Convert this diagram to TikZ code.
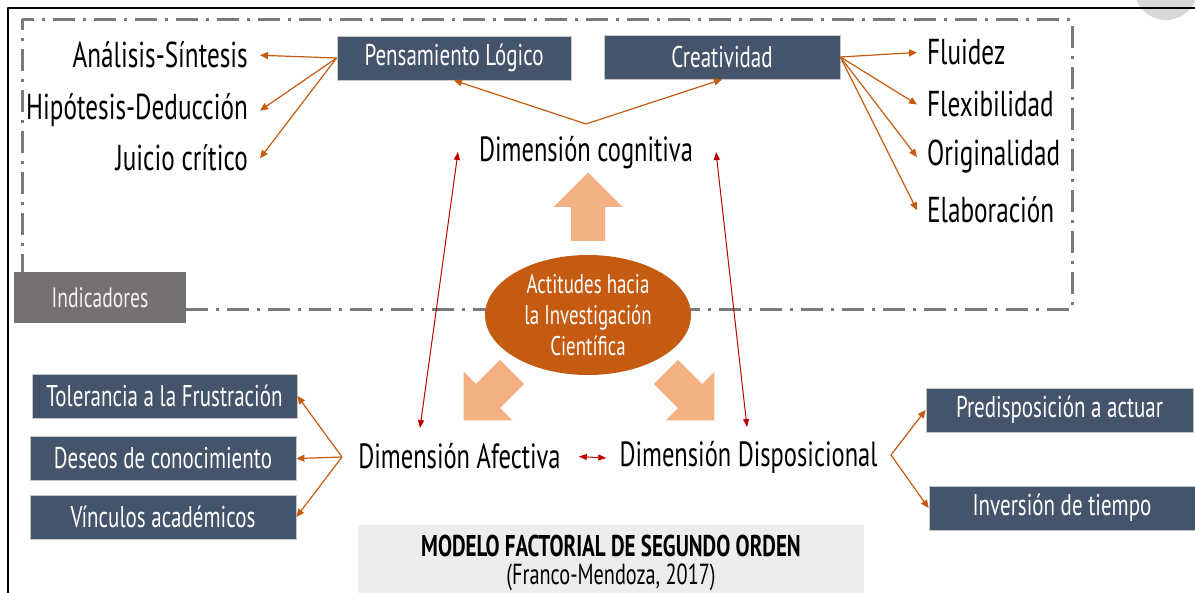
\documentclass[tikz,border=0pt]{standalone}
\usepackage{fontspec}
\setmainfont{PT Sans}[FakeStretch=0.7]
\usetikzlibrary{arrows.meta,shapes.geometric}
\definecolor{slate}{HTML}{44546A}
\definecolor{rust}{HTML}{C55A11}
\definecolor{peach}{HTML}{F4B183}
\definecolor{dimred}{HTML}{C00000}
\definecolor{indgray}{HTML}{767171}
\definecolor{dashgray}{HTML}{7A7A7A}
\definecolor{notegray}{HTML}{EDEDED}
\begin{document}
\begin{tikzpicture}[x=1pt,y=-1pt,line join=round,
    ind/.style={font=\fontsize{36}{40}\selectfont,inner sep=0pt},
    dim/.style={font=\fontsize{35}{39}\selectfont,inner sep=0pt},
    slatebox/.style={fill=slate,draw=gray!45,line width=0.8pt,text=white,
      font=\fontsize{30}{33}\selectfont,minimum height=44pt,inner sep=0pt},
    link/.style={draw=rust,line width=1.2pt,-{Triangle[length=8pt,width=7pt]}},
    both/.style={draw=dimred,line width=1pt,
      {Triangle[length=8pt,width=6pt]}-{Triangle[length=8pt,width=6pt]}}]
  \useasboundingbox (0,0) rectangle (1195,593);
  \fill[gray!30] (1166,-12) circle (32);
  \draw[line width=1.5pt] (8,593) -- (8,8) -- (1195,8);

  % indicadores frame
  \draw[dashgray,line width=3pt,dash pattern=on 22pt off 8pt on 3pt off 8pt]
    (186,310) -- (1072,310) -- (1072,20) -- (22,20) -- (22,272);
  \node[fill=indgray,minimum width=172pt,minimum height=51pt,inner sep=0pt,
    text=white!95!black,font=\fontsize{28}{31}\selectfont] (indic) at (100,297.5) {Indicadores};

  % block arrows
  \foreach \x/\y/\a in {588/207/90,488/396/225,690/396/315}
    \fill[peach,shift={(\x,\y)},rotate=\a] (-34,-17) -- (0,-17) -- (0,-34.5)
      -- (34.5,0) -- (0,34.5) -- (0,17) -- (-34,17) -- cycle;

  \node[ellipse,fill=rust,minimum width=206pt,minimum height=120pt,inner sep=0pt,
    text=white,align=center,font=\fontsize{27}{31}\selectfont] (actitud) at (588,315)
    {Actitudes hacia\\la Investigación\\Científica};

  % dimensiones
  \node[dim,anchor=base] (cog) at (586,162) {Dimensión cognitiva};
  \node[dim,anchor=base] (afect) at (459.5,469) {Dimensión Afectiva};
  \node[dim,anchor=base] (dispo) at (748.5,467) {Dimensión Disposicional};

  \node[slatebox,minimum width=234pt] (logico) at (454,58) {Pensamiento Lógico};
  \node[slatebox,minimum width=236pt] (creat) at (722,57) {Creatividad};
  \node[slatebox,minimum width=265pt] (toler) at (164.5,396) {Tolerancia a la Frustración};
  \node[slatebox,minimum width=266pt] (deseo) at (163,458.5) {Deseos de conocimiento};
  \node[slatebox,minimum width=266pt] (vincu) at (163,517) {Vínculos académicos};
  \node[slatebox,minimum width=267pt] (predis) at (1059.5,410) {Predisposición a actuar};
  \node[slatebox,minimum width=266pt] (inver) at (1062,508) {Inversión de tiempo};

  \node[ind,anchor=base east] (analisis) at (248,68) {Análisis-Síntesis};
  \node[ind,anchor=base east] (hipotesis) at (248,120) {Hipótesis-Deducción};
  \node[ind,anchor=base east] (juicio) at (248,171) {Juicio crítico};
  \node[ind,anchor=base west] (fluidez) at (927,65) {Fluidez};
  \node[ind,anchor=base west] (flexi) at (927,117) {Flexibilidad};
  \node[ind,anchor=base west] (origi) at (927,166) {Originalidad};
  \node[ind,anchor=base west] (elabo) at (927,223) {Elaboración};

  \fill[notegray] (358,525) rectangle (864,600);
  \node[anchor=base,inner sep=0pt,font=\bfseries\fontsize{30}{33}\selectfont] (modelo) at (611,556)
    {MODELO FACTORIAL DE SEGUNDO ORDEN};
  \node[anchor=base,inner sep=0pt,font=\fontsize{29}{32}\selectfont] (fuente) at (611,584)
    {(Franco-Mendoza, 2017)};

  % connectors
  \coordinate (cogtop) at (586,124);
  \coordinate (afeL) at (342,457);
  \coordinate (dispR) at (891,455);
  \coordinate (cogL) at (458,152);
  \coordinate (cogR) at (716,152);
  \coordinate (afeT) at (420,428);
  \coordinate (dispT) at (747,427);

  \draw[link] (cogtop) -- (logico.south);
  \draw[link] (cogtop) -- (creat.south);
  \foreach \t in {analisis,hipotesis,juicio}
    \draw[link] (logico.west) -- ([xshift=12pt]\t.east);
  \foreach \t in {fluidez,flexi,origi,elabo}
    \draw[link] (creat.east) -- ([xshift=-10pt]\t.west);
  \foreach \t in {toler,deseo,vincu}
    \draw[link] (afeL) -- (\t.east);
  \foreach \t in {predis,inver}
    \draw[link] (dispR) -- (\t.west);

  \draw[both] (cogL) -- (afeT);
  \draw[both] (cogR) -- (dispT);
  \draw[both] ([xshift=18pt]afect.east) -- ([xshift=-13pt]dispo.west);
\end{tikzpicture}
\end{document}
